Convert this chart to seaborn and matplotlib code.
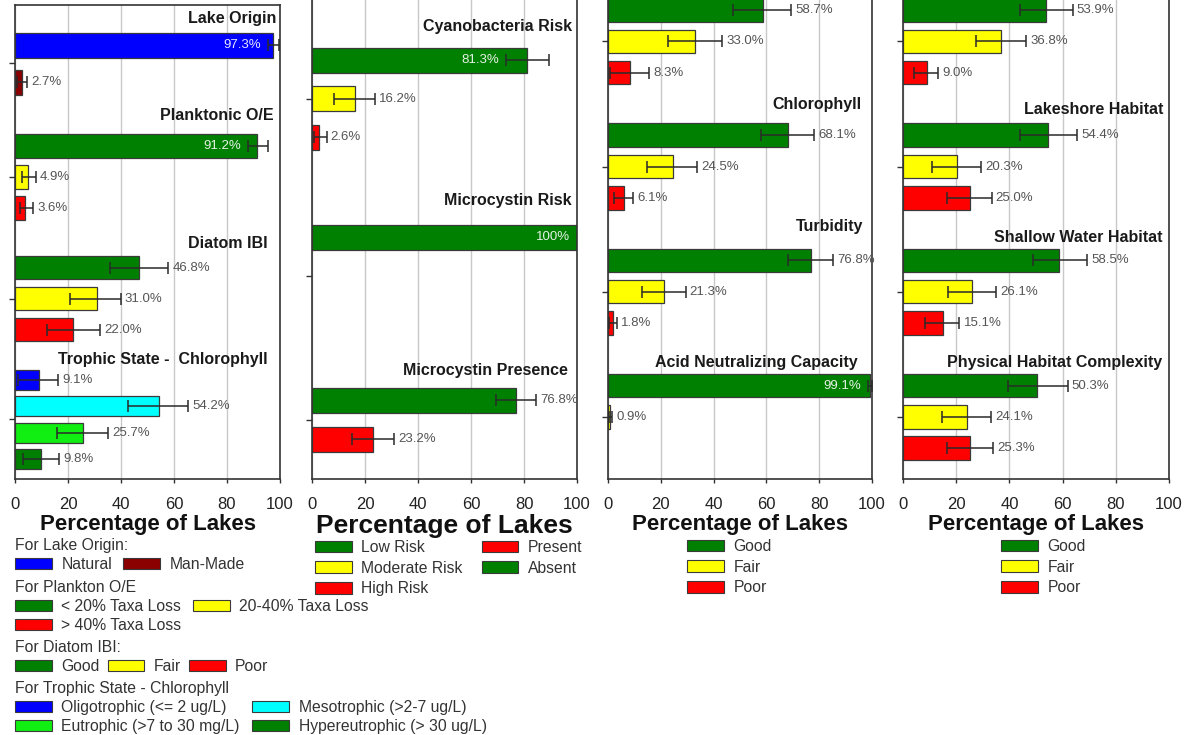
import numpy as np
import pandas as pd
import matplotlib
matplotlib.use("Agg")
import matplotlib.pyplot as plt
from matplotlib.patches import Patch
import seaborn as sns

# ---------------------------------------------------------------------------
# Percentage of lakes in each condition class, with 95% confidence bounds
# ---------------------------------------------------------------------------
origin_labels = ["Natural", "Man-Made"]
origin_pct = [97.3, 2.7]
origin_lo = [95.4, 0.9]
origin_hi = [99.6, 4.6]

plankton_labels = ["< 20% Taxa Loss", "20-40% Taxa Loss", "> 40% Taxa Loss"]
plankton_pct = [91.2, 4.9, 3.6]
plankton_lo = [88.0, 2.5, 1.9]
plankton_hi = [95.5, 7.9, 6.9]

condition_labels = ["Good", "Fair", "Poor"]

diatom_pct = [46.8, 31.0, 22.0]
diatom_lo = [35.8, 20.8, 12.0]
diatom_hi = [57.8, 39.9, 32.0]

trophic_labels = ["Oligotrophic (<= 2 ug/L)", "Mesotrophic (>2-7 ug/L)",
                  "Eutrophic (>7 to 30 mg/L)", "Hypereutrophic (> 30 ug/L)"]
trophic_pct = [9.1, 54.2, 25.7, 9.8]
trophic_lo = [1.3, 42.8, 16.0, 3.1]
trophic_hi = [16.3, 65.4, 35.2, 16.7]

risk_labels = ["Low Risk", "Moderate Risk", "High Risk"]
cyano_pct = [81.3, 16.2, 2.6]
cyano_lo = [73.1, 8.4, 0.7]
cyano_hi = [89.6, 23.8, 5.5]

mc_risk_pct = [100.0]
mc_risk_lo = [100.0]
mc_risk_hi = [100.0]

presence_labels = ["Absent", "Present"]
presence_pct = [76.8, 23.2]
presence_lo = [69.4, 15.2]
presence_hi = [84.5, 31.1]

nutrient_pct = [58.7, 33.0, 8.3]
nutrient_lo = [47.5, 22.6, 0.9]
nutrient_hi = [69.3, 43.3, 15.6]

chla_pct = [68.1, 24.5, 6.1]
chla_lo = [58.0, 14.6, 2.3]
chla_hi = [78.0, 33.8, 9.6]

turbidity_pct = [76.8, 21.3, 1.8]
turbidity_lo = [68.3, 12.8, 0.4]
turbidity_hi = [85.3, 29.4, 3.3]

anc_pct = [99.1, 0.9]
anc_lo = [98.6, 0.2]
anc_hi = [100.0, 1.6]

disturbance_pct = [53.9, 36.8, 9.0]
disturbance_lo = [44.0, 27.4, 4.1]
disturbance_hi = [63.8, 46.2, 13.3]

lakeshore_pct = [54.4, 20.3, 25.0]
lakeshore_lo = [44.0, 10.8, 16.7]
lakeshore_hi = [65.5, 29.2, 33.3]

shallow_pct = [58.5, 26.1, 15.1]
shallow_lo = [48.8, 17.0, 8.3]
shallow_hi = [69.3, 35.0, 21.2]

complexity_pct = [50.3, 24.1, 25.3]
complexity_lo = [39.6, 14.8, 16.7]
complexity_hi = [61.9, 33.0, 34.0]

# ---------------------------------------------------------------------------
# Styling
# ---------------------------------------------------------------------------
GREEN, YELLOW, RED = "#008000", "#ffff00", "#ff0000"
BLUE, MAROON, CYAN, LIME = "#0000ff", "#8b0000", "#00ffff", "#11ee11"
EDGE = "#3a3a3a"
ERR = "#2a2a2a"
GFR = [GREEN, YELLOW, RED]

W, H = 1188, 735
sns.set_style("ticks")
plt.rcParams["font.family"] = ["Liberation Sans", "DejaVu Sans"]


def group(title, labels, pct, lo, hi, colors):
    return dict(title=title, labels=labels, pct=pct, lo=lo, hi=hi, colors=colors)


panel1 = [
    group("Lake Origin", origin_labels, origin_pct, origin_lo, origin_hi, [BLUE, MAROON]),
    group("Planktonic O/E", plankton_labels, plankton_pct, plankton_lo, plankton_hi, GFR),
    group("Diatom IBI", condition_labels, diatom_pct, diatom_lo, diatom_hi, GFR),
    group("Trophic State -  Chlorophyll", trophic_labels, trophic_pct, trophic_lo,
          trophic_hi, [BLUE, CYAN, LIME, GREEN]),
]
panel2 = [
    group("Cyanobacteria Risk", risk_labels, cyano_pct, cyano_lo, cyano_hi, GFR),
    group("Microcystin Risk", risk_labels[:1], mc_risk_pct, mc_risk_lo, mc_risk_hi, [GREEN]),
    group("Microcystin Presence", presence_labels, presence_pct, presence_lo,
          presence_hi, [GREEN, RED]),
]
panel3 = [
    group(None, condition_labels, nutrient_pct, nutrient_lo, nutrient_hi, GFR),
    group("Chlorophyll", condition_labels, chla_pct, chla_lo, chla_hi, GFR),
    group("Turbidity", condition_labels, turbidity_pct, turbidity_lo, turbidity_hi, GFR),
    group("Acid Neutralizing Capacity", condition_labels[:2], anc_pct, anc_lo, anc_hi,
          [GREEN, YELLOW]),
]
panel4 = [
    group(None, condition_labels, disturbance_pct, disturbance_lo, disturbance_hi, GFR),
    group("Lakeshore Habitat", condition_labels, lakeshore_pct, lakeshore_lo, lakeshore_hi, GFR),
    group("Shallow Water Habitat", condition_labels, shallow_pct, shallow_lo, shallow_hi, GFR),
    group("Physical Habitat Complexity", condition_labels, complexity_pct, complexity_lo,
          complexity_hi, GFR),
]

# Vertical layout of each group, in figure pixel rows, plus the title's right edge
# (first slot, slot pitch, number of slots, bar thickness, title row, title x)
layout1 = [(45, 37, 2, 25, 18, 98.5), (146, 31, 3, 24, 115, 97.5),
           (268, 31, 3, 23, 243, 95.5), (380, 26.3, 4, 20, 360, 95.5)]
layout2 = [(60, 38.5, 3, 25, 27, 98), (237, 38.5, 3, 25, 200, 98),
           (400, 39, 2, 25, 370, 96.5)]
PITCH = 31.3
slot0 = [10 + 4 * k * PITCH for k in range(4)]
layout3 = [(y0, PITCH, 3, 23.5, ty, tx) for y0, ty, tx in
           zip(slot0, [0, 105, 227, 362], [96, 96, 96.5, 94.7])]
layout4 = [(y0, PITCH, 3, 23.5, ty, tx) for y0, ty, tx in
           zip(slot0, [0, 110, 237, 363], [97.7, 97.7, 97.7, 97.4])]

BOTTOM = 479


def draw_panel(ax, groups, layout, per_group, xlabel_size):
    recs = []
    centers = []
    for gi, (g, (y0, pitch, nslots, thick, ty, tx)) in enumerate(zip(groups, layout)):
        centers.append(y0 + (nslots - 1) * pitch / 2)
        for i in range(len(g["pct"])):
            recs.append(dict(group=gi, key=f"{gi}:{i}", y=y0 + i * pitch,
                             pct=g["pct"][i], lo=g["lo"][i], hi=g["hi"][i],
                             color=g["colors"][i], thick=thick))
        if g["title"]:
            ax.text(tx, ty, g["title"], ha="right", va="center", fontsize=11.5,
                    fontweight="bold", color="#1a1a1a", zorder=4)
    df = pd.DataFrame(recs)

    batches = [d for _, d in df.groupby("group")] if per_group else [df]
    for d in batches:
        ys = np.unique(d["y"])
        spacing = np.diff(ys).min() if len(ys) > 1 else 1.0
        sns.barplot(data=d, x="pct", y="y", hue="key",
                    palette=dict(zip(d["key"], d["color"])), orient="h",
                    native_scale=True, width=d["thick"].iloc[0] / spacing,
                    saturation=1, errorbar=None, legend=False,
                    edgecolor=EDGE, linewidth=0.9, ax=ax, zorder=2)

    e = df[df["hi"] > df["lo"]]
    ax.errorbar(e["pct"], e["y"], xerr=[e["pct"] - e["lo"], e["hi"] - e["pct"]],
                fmt="none", ecolor=ERR, elinewidth=1.1, capsize=4.5, capthick=1.1,
                zorder=3)

    for r in df.itertuples():
        txt = "100%" if r.pct >= 100 else f"{r.pct:.1f}%"
        if r.pct >= 80:
            ax.annotate(txt, (r.lo, r.y), xytext=(-5, 0), textcoords="offset points",
                        ha="right", va="center", fontsize=9.5, color="white",
                        alpha=0.9, zorder=4)
        else:
            ax.annotate(txt, (r.hi, r.y), xytext=(3, 0), textcoords="offset points",
                        ha="left", va="center", fontsize=9.5, color="#555555",
                        zorder=4)

    ax.set_xlim(0, 100)
    ax.set_xticks(range(0, 101, 20))
    ax.set_yticks(centers)
    ax.set_yticklabels([])
    ax.tick_params(axis="y", length=4, width=1, color="#333333", direction="out")
    ax.tick_params(axis="x", length=3, width=1, color="#333333", pad=10,
                   labelsize=12, labelcolor="#222222")
    ax.grid(axis="x", color="#c8c8c8", linewidth=1)
    ax.grid(axis="y", visible=False)
    ax.set_axisbelow(True)
    for s in ax.spines.values():
        s.set_color("#333333")
        s.set_linewidth(1.2)
    ax.set_ylabel("")
    ax.set_xlabel("Percentage of Lakes", fontsize=xlabel_size, fontweight="bold",
                  color="#111111", labelpad=1.5)


fig = plt.figure(figsize=(W / 100, H / 100), dpi=100)


def axes_px(left, right, top, bottom):
    return fig.add_axes([left / W, 1 - bottom / H, (right - left) / W, (bottom - top) / H])


TOP_OUT = -40
ax1 = axes_px(15, 280, 5, BOTTOM)
ax2 = axes_px(312, 577, TOP_OUT, BOTTOM)
ax3 = axes_px(608, 872, TOP_OUT, BOTTOM)
ax4 = axes_px(903, 1169, TOP_OUT, BOTTOM)

draw_panel(ax1, panel1, layout1, True, 16)
draw_panel(ax2, panel2, layout2, False, 19)
draw_panel(ax3, panel3, layout3, False, 16)
draw_panel(ax4, panel4, layout4, False, 16)
ax1.set_ylim(BOTTOM, 5)
for ax in (ax2, ax3, ax4):
    ax.set_ylim(BOTTOM, TOP_OUT)


# ---------------------------------------------------------------------------
# Legends
# ---------------------------------------------------------------------------
def add_legend(labels, colors, ncol, x, y, title=None, colspace=0.5, rowspace=0.25,
               size=11.3):
    handles = [Patch(facecolor=c, edgecolor=EDGE, linewidth=0.8) for c in colors]
    leg = fig.legend(handles, labels, loc="upper left", bbox_to_anchor=(x / W, 1 - y / H),
                     ncol=ncol, frameon=False, fontsize=size, title=title,
                     title_fontsize=size, alignment="left", borderpad=0,
                     borderaxespad=0, handlelength=2.35, handleheight=0.75,
                     handletextpad=0.6, columnspacing=colspace, labelspacing=rowspace)
    if title:
        leg.get_title().set_color("#333333")
    for t in leg.get_texts():
        t.set_color("#333333")
    return leg


add_legend(origin_labels, [BLUE, MAROON], 2, 15, 538, "For Lake Origin:", 0.7)
add_legend([plankton_labels[0], plankton_labels[2], plankton_labels[1]],
           [GREEN, RED, YELLOW], 2, 15, 580, "For Plankton O/E", 0.75)
add_legend(condition_labels, GFR, 3, 15, 640, "For Diatom IBI:", 0.5)
add_legend([trophic_labels[0], trophic_labels[2], trophic_labels[1], trophic_labels[3]],
           [BLUE, LIME, CYAN, GREEN], 2, 15, 681, "For Trophic State - Chlorophyll", 0.8)
add_legend(risk_labels + presence_labels[::-1], [GREEN, YELLOW, RED, RED, GREEN],
           2, 315, 540, None, 1.2, 0.36)
add_legend(condition_labels, GFR, 1, 687, 539, rowspace=0.36)
add_legend(condition_labels, GFR, 1, 1001, 539, rowspace=0.36)

fig.savefig("out.png", dpi=100)
